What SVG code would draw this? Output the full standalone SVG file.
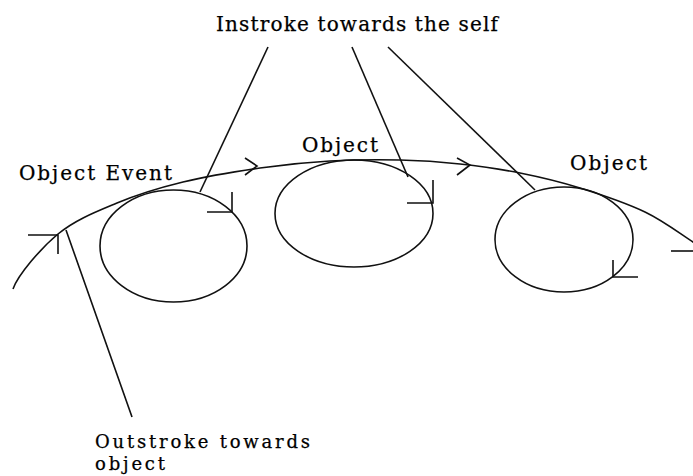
<svg xmlns="http://www.w3.org/2000/svg" width="693" height="476" viewBox="0 0 693 476">
<style>
.s{fill:none;stroke:#111;stroke-width:1.6;stroke-linejoin:miter;stroke-linecap:butt}
.t{font-family:"DejaVu Serif","Liberation Serif",serif;font-size:20px;fill:#000;stroke:#000;stroke-width:0.25}
.b{font-size:18px}
</style>
<rect width="693" height="476" fill="#fff"/>
<g id="connectors">
<path id="event-arc" class="s" d="M13,289 C18,275 40.7,248.3 58,234 C75.3,219.7 96.2,211.7 117,203 C137.8,194.3 159.2,187.8 183,182 C206.8,176.2 235.5,171.5 260,168 C284.5,164.5 306.7,162.3 330,161 C353.3,159.7 378.3,159.5 400,160 C421.7,160.5 440,161.8 460,164 C480,166.2 500,169 520,173 C540,177 559.2,181.5 580,188 C600.8,194.5 626.2,203 645,212 C663.8,221 683,235.7 693,242 C703,248.3 703,248.7 705,250"/>
<polyline class="s" points="28,235 58,235 58,254"/>
<polyline class="s" points="245,158 257,166 245,175"/>
<polyline class="s" points="457,158 470,165 457,175"/>
<line class="s" x1="671" y1="251" x2="693" y2="251"/>
<line class="s" x1="268" y1="47" x2="200" y2="192"/>
<line class="s" x1="352" y1="47" x2="408" y2="177"/>
<line class="s" x1="388" y1="47" x2="535" y2="190"/>
<line class="s" x1="66" y1="230" x2="132" y2="417"/>
</g>
<g id="object-1">
<ellipse class="s" cx="173.5" cy="246" rx="73.5" ry="56"/>
<polyline class="s" points="207,212 232,212 232,192"/>
</g>
<g id="object-2">
<ellipse class="s" cx="354" cy="213.5" rx="79" ry="53.5"/>
<polyline class="s" points="407,203 433,203 433,180"/>
</g>
<g id="object-3">
<ellipse class="s" cx="564" cy="239.5" rx="69" ry="52.5"/>
<polyline class="s" points="613,260 613,277 638,277"/>
</g>
<g id="labels">
<text class="t" x="216" y="31" textLength="282">Instroke towards the self</text>
<text class="t" x="19" y="180" textLength="153">Object Event</text>
<text class="t" x="302" y="152" textLength="76">Object</text>
<text class="t" x="570" y="170" textLength="77">Object</text>
<text class="t b" x="95" y="448" textLength="215">Outstroke towards</text>
<text class="t b" x="95" y="470" textLength="70">object</text>
</g>
</svg>
